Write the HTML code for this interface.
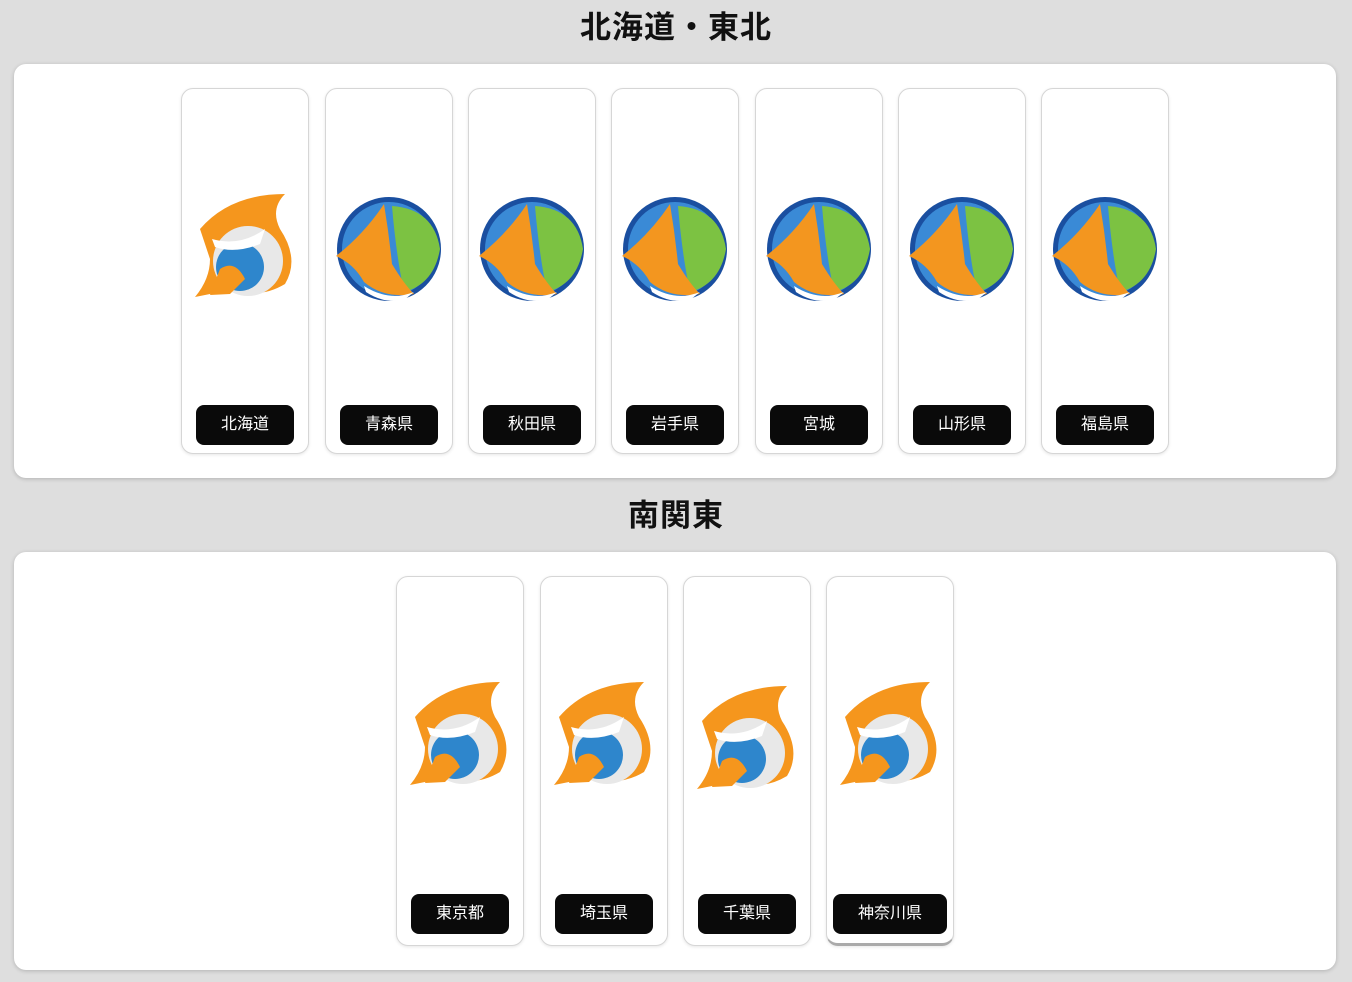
<!DOCTYPE html>
<html><head><meta charset="utf-8"><style>
body{margin:0;width:1352px;height:982px;background:#dedede;font-family:"Liberation Sans","Noto Sans CJK JP",sans-serif;position:relative;overflow:hidden}
h2{position:absolute;left:0;width:1352px;text-align:center;margin:0;font-size:31px;font-weight:bold;color:#111;line-height:40px;letter-spacing:1px}
.panel{position:absolute;left:14px;width:1322px;background:#fff;border-radius:12px;box-shadow:0 1px 4px rgba(0,0,0,.2)}
.card{position:absolute;width:126px;border:1px solid #d6d6d6;border-radius:12px;background:#fff;box-shadow:0 1px 3px rgba(0,0,0,.1)}
.lbl{position:absolute;bottom:8px;left:50%;transform:translateX(-50%);background:#0a0a0a;color:#fff;border-radius:8px;height:40px;line-height:40px;font-size:16px;text-align:center;width:98px}
.ic{position:absolute;left:8px;width:110px;height:110px}
</style></head><body>
<svg width="0" height="0" style="position:absolute"><defs>
<g id="globe"><circle cx="55" cy="55" r="52" fill="#1a4fa0"/><circle cx="55" cy="55" r="47" fill="#3a8ad6"/><path d="M58 12 Q100 15 106 55 Q100 90 70 98 Q62 60 58 12Z" fill="#7cc242"/><path d="M2 62 Q30 40 50 10 Q55 40 58 70 Q70 90 80 100 Q50 105 30 88 Q20 70 2 62Z" fill="#f3961f"/><path d="M30 92 Q55 108 80 98 L70 106 Q50 110 32 98Z" fill="#fff"/></g>
<g id="shark"><path d="M10 40 Q40 5 95 5 Q80 20 90 40 Q110 70 95 95 Q70 110 45 100 L5 108 Q20 90 20 70Z" fill="#f5961d"/><circle cx="58" cy="72" r="35" fill="#e8e8e8"/><circle cx="50" cy="78" r="24" fill="#2e86cc"/><path d="M30 80 Q45 70 55 90 L40 105 L20 106Z" fill="#f5961d"/><path d="M22 50 Q50 58 75 40 L70 55 Q45 65 25 58Z" fill="#fff"/></g>
</defs></svg>
<h2 style="top:8px">北海道・東北</h2>
<div class="panel" style="top:64px;height:414px"></div>
<h2 style="top:496px">南関東</h2>
<div class="panel" style="top:552px;height:418px"></div>

<div class="card" style="left:181px;top:88px;height:364px"><svg class="ic" style="top:100px"><use href="#shark"/></svg><div class="lbl">北海道</div></div>
<div class="card" style="left:325px;top:88px;height:364px"><svg class="ic" style="top:105px"><use href="#globe"/></svg><div class="lbl">青森県</div></div>
<div class="card" style="left:468px;top:88px;height:364px"><svg class="ic" style="top:105px"><use href="#globe"/></svg><div class="lbl">秋田県</div></div>
<div class="card" style="left:611px;top:88px;height:364px"><svg class="ic" style="top:105px"><use href="#globe"/></svg><div class="lbl">岩手県</div></div>
<div class="card" style="left:755px;top:88px;height:364px"><svg class="ic" style="top:105px"><use href="#globe"/></svg><div class="lbl">宮城</div></div>
<div class="card" style="left:898px;top:88px;height:364px"><svg class="ic" style="top:105px"><use href="#globe"/></svg><div class="lbl">山形県</div></div>
<div class="card" style="left:1041px;top:88px;height:364px"><svg class="ic" style="top:105px"><use href="#globe"/></svg><div class="lbl">福島県</div></div>

<div class="card" style="left:396px;top:576px;height:368px"><svg class="ic" style="top:100px"><use href="#shark"/></svg><div class="lbl" style="bottom:11px">東京都</div></div>
<div class="card" style="left:540px;top:576px;height:368px"><svg class="ic" style="top:100px"><use href="#shark"/></svg><div class="lbl" style="bottom:11px">埼玉県</div></div>
<div class="card" style="left:683px;top:576px;height:368px"><svg class="ic" style="top:104px"><use href="#shark"/></svg><div class="lbl" style="bottom:11px">千葉県</div></div>
<div class="card" style="left:826px;top:576px;height:366px;border-bottom:3px solid #aaa"><svg class="ic" style="top:100px"><use href="#shark"/></svg><div class="lbl" style="width:114px;bottom:9px">神奈川県</div></div>
</body></html>
